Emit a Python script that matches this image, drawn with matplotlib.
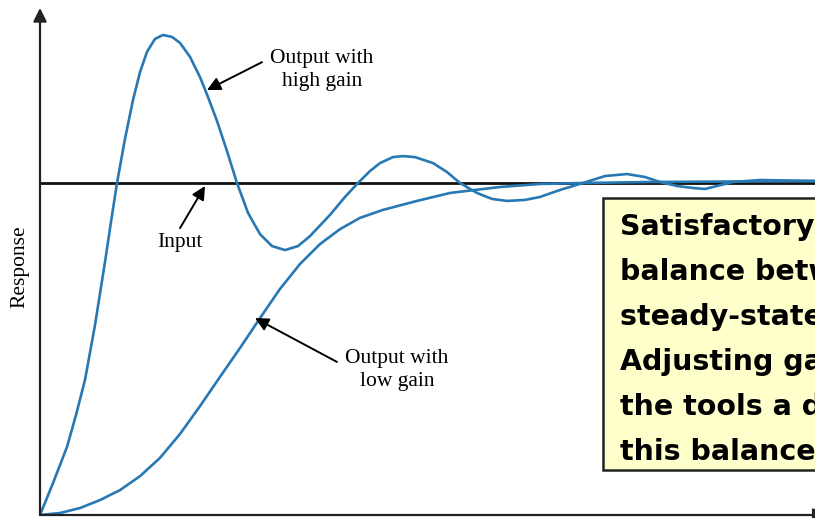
import matplotlib
matplotlib.use("Agg")
import matplotlib.pyplot as plt
from matplotlib.patches import Rectangle

# ---- data (time in arbitrary units, response normalised to input = 1) ----
t_high = [0.00, 0.13, 0.27, 0.36, 0.45, 0.55, 0.65, 0.71, 0.77, 0.85, 0.93, 1.00,
          1.07, 1.15, 1.23, 1.32, 1.40, 1.50, 1.60, 1.68, 1.77, 1.87, 1.97, 2.08,
          2.20, 2.32, 2.45, 2.58, 2.70, 2.90, 3.05, 3.18, 3.30, 3.40, 3.53, 3.63,
          3.75, 3.93, 4.07, 4.20, 4.37, 4.52, 4.67, 4.85, 5.00, 5.20, 5.43, 5.65,
          5.87, 6.05, 6.20, 6.37, 6.53, 6.65, 6.77, 6.93, 7.20, 7.75]
r_high = [0.000, 0.096, 0.205, 0.301, 0.407, 0.572, 0.762, 0.883, 1.000, 1.133, 1.250, 1.334,
          1.395, 1.434, 1.446, 1.440, 1.422, 1.380, 1.319, 1.259, 1.187, 1.096, 1.000, 0.910,
          0.846, 0.810, 0.798, 0.810, 0.840, 0.904, 0.958, 1.000, 1.036, 1.060, 1.078, 1.081,
          1.078, 1.060, 1.033, 1.000, 0.970, 0.952, 0.946, 0.949, 0.958, 0.979, 1.000, 1.021,
          1.027, 1.018, 1.003, 0.991, 0.985, 0.982, 0.991, 1.003, 1.009, 1.006]

t_low = [0.00, 0.20, 0.40, 0.60, 0.80, 1.00, 1.20, 1.40, 1.60, 1.80, 2.00, 2.20,
         2.40, 2.60, 2.80, 3.00, 3.20, 3.43, 3.77, 4.10, 4.60, 5.00, 5.43, 6.10, 7.75]
r_low = [0.000, 0.006, 0.021, 0.045, 0.075, 0.117, 0.172, 0.244, 0.328, 0.416, 0.503, 0.593,
         0.681, 0.756, 0.816, 0.861, 0.895, 0.919, 0.946, 0.970, 0.988, 0.997, 1.000, 1.003, 1.006]

t_input = [0.00, 7.75]
r_input = [1.0, 1.0]

label_y = "Response"
label_high = "Output with\nhigh gain"
label_low = "Output with\nlow gain"
label_input = "Input"
box_lines = ["Satisfactory performance requires a",
             "balance between transient response and",
             "steady-state error.",
             "Adjusting gain is one of",
             "the tools a designer uses to achieve",
             "this balance."]

# ---- figure ----
W, H = 815, 518
fig = plt.figure(figsize=(W / 100, H / 100), dpi=100)
fig.patch.set_facecolor("white")

ax = fig.add_axes([40 / W, 3 / H, 775 / W, 507 / H])
ax.set_xlim(0, 7.75)
ax.set_ylim(0, 507 / 332)
ax.axis("off")

blue = "#2878b4"
serif = ["Liberation Serif", "DejaVu Serif"]

ax.plot(t_input, r_input, color="#111111", lw=2.0, solid_capstyle="butt", zorder=2)
ax.plot(t_high, r_high, color=blue, lw=1.9, zorder=3, solid_joinstyle="round")
ax.plot(t_low, r_low, color=blue, lw=1.9, zorder=3, solid_joinstyle="round")

# axes with arrowheads
ax.annotate("", xy=(0, 1.0), xytext=(0, 0), xycoords="axes fraction",
            arrowprops=dict(arrowstyle="-|>", lw=1.6, color="#222222",
                            mutation_scale=20, shrinkA=0, shrinkB=0), annotation_clip=False)
ax.annotate("", xy=(1.015, 0), xytext=(0, 0), xycoords="axes fraction",
            arrowprops=dict(arrowstyle="-|>", lw=1.6, color="#222222",
                            mutation_scale=20, shrinkA=0, shrinkB=0), annotation_clip=False)

arrow_kw = dict(arrowstyle="-|>", lw=1.4, color="black", mutation_scale=20,
                shrinkA=0, shrinkB=0)

# annotations
ax.annotate("", xy=(1.67, 1.280), xytext=(2.22, 1.364), arrowprops=arrow_kw)
ax.text(2.82, 1.340, label_high, ha="center", va="center", fontsize=15.5,
        family=serif, linespacing=1.25)

ax.annotate("", xy=(1.65, 0.991), xytext=(1.40, 0.864), arrowprops=arrow_kw)
ax.text(1.40, 0.822, label_input, ha="center", va="center", fontsize=15.5, family=serif)

ax.annotate("", xy=(2.15, 0.593), xytext=(2.97, 0.461), arrowprops=arrow_kw)
ax.text(3.57, 0.437, label_low, ha="center", va="center", fontsize=15.5,
        family=serif, linespacing=1.25)

fig.text(20 / W, 1 - 267 / H, label_y, rotation=90, ha="center", va="center",
         fontsize=15.5, family=serif)

# yellow text box (cut by the right edge, as in the reference)
fig.add_artist(Rectangle((603 / W, 1 - 470 / H), 400 / W, (470 - 198) / H,
                         transform=fig.transFigure, facecolor="#ffffcc",
                         edgecolor="#222222", lw=1.8, zorder=5))
for i, line in enumerate(box_lines):
    fig.text(620 / W, 1 - (235 + 45 * i) / H, line, ha="left", va="baseline",
             fontsize=20.5, fontweight="bold", family=["DejaVu Sans"], zorder=6)

fig.savefig("out.png", dpi=100)
